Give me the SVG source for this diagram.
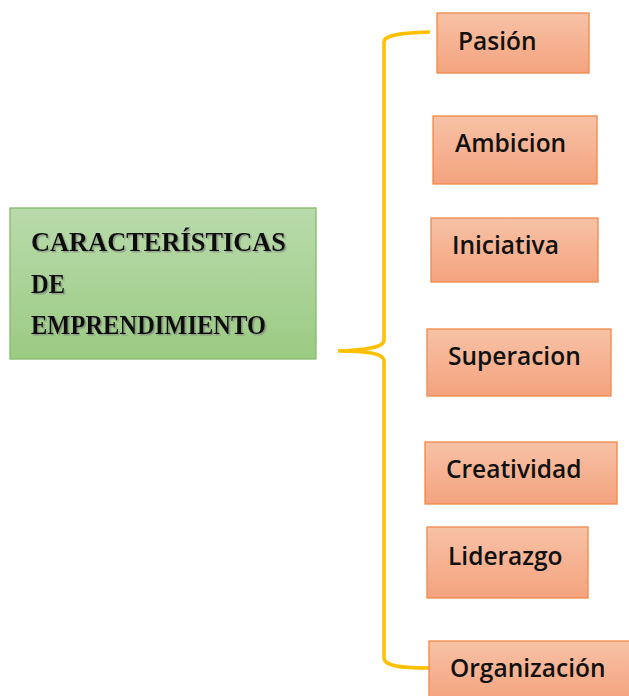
<svg xmlns="http://www.w3.org/2000/svg" width="629" height="696" viewBox="0 0 629 696">
<defs>
<linearGradient id="gGreen" x1="0" y1="0" x2="0" y2="1"><stop offset="0" stop-color="#b9dbab"/><stop offset="1" stop-color="#9bcb83"/></linearGradient>
<linearGradient id="gOrange" x1="0" y1="0" x2="0" y2="1"><stop offset="0" stop-color="#f7c2a6"/><stop offset="1" stop-color="#f4a37e"/></linearGradient>
<filter id="sh" x="-5%" y="-20%" width="110%" height="140%"><feDropShadow dx="1.5" dy="1.5" stdDeviation="0.6" flood-color="#777" flood-opacity="0.6"/></filter>
</defs>
<style>
.ob{fill:url(#gOrange);stroke:#f0894a;stroke-width:1.3}
.lb{font-family:"Open Sans","Liberation Sans",sans-serif;font-weight:600;font-size:24.5px;fill:#111}
.tt{font-family:"Liberation Serif",serif;font-weight:bold;font-size:27px;fill:#111;filter:url(#sh)}
.br{fill:none;stroke:#ffc000;stroke-width:3.5;stroke-linecap:butt}
</style>
<rect width="629" height="696" fill="#fff"/>
<g id="connectors">
<path class="br" d="M430,32 C400,33 384,35 384,42 L384,340 C384,348 365,350 338,351 C365,351 384,353 384,361 L384,658 C384,666 400,668 430,668"/>
</g>
<g id="main">
<rect x="10" y="208" width="306" height="151" fill="url(#gGreen)" stroke="#85ba6a" stroke-width="1.3"/>
<text class="tt" x="31" y="251" textLength="255" lengthAdjust="spacingAndGlyphs">CARACTERÍSTICAS</text>
<text class="tt" x="31" y="293" textLength="34" lengthAdjust="spacingAndGlyphs">DE</text>
<text class="tt" x="31" y="334" textLength="235" lengthAdjust="spacingAndGlyphs">EMPRENDIMIENTO</text>
</g>
<g id="pasion"><rect class="ob" x="437" y="13" width="152" height="60"/><text class="lb" x="458" y="50">Pasión</text></g>
<g id="ambicion"><rect class="ob" x="433" y="116" width="164" height="68"/><text class="lb" x="455" y="152">Ambicion</text></g>
<g id="iniciativa"><rect class="ob" x="431" y="218" width="167" height="64"/><text class="lb" x="452" y="254">Iniciativa</text></g>
<g id="superacion"><rect class="ob" x="427" y="329" width="184" height="67"/><text class="lb" x="448" y="365">Superacion</text></g>
<g id="creatividad"><rect class="ob" x="425" y="442" width="192" height="62"/><text class="lb" x="446" y="478">Creatividad</text></g>
<g id="liderazgo"><rect class="ob" x="427" y="527" width="161" height="71"/><text class="lb" x="448" y="565">Liderazgo</text></g>
<g id="organizacion"><rect class="ob" x="429" y="641" width="205" height="60"/><text class="lb" x="450" y="677">Organización</text></g>
</svg>
